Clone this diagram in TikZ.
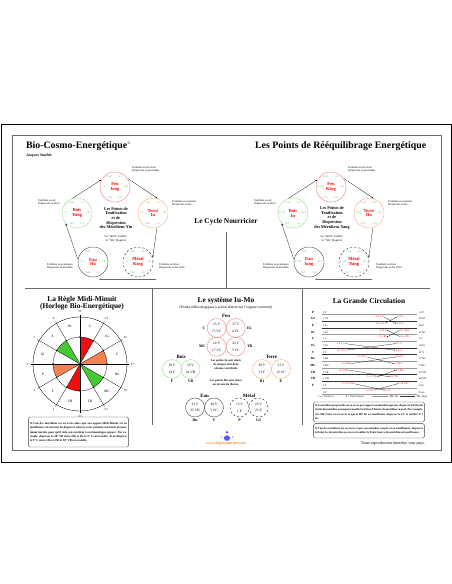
\documentclass[tikz,border=0pt]{standalone}
\usepackage{fontspec}
\setmainfont{Liberation Serif}
\usetikzlibrary{positioning,calc,arrows.meta}

\definecolor{feuline}{RGB}{238,110,110}
\definecolor{boisline}{RGB}{130,220,120}
\definecolor{terreline}{RGB}{246,160,120}
\definecolor{ptgreen}{RGB}{70,200,70}
\definecolor{wedgered}{RGB}{240,15,15}
\definecolor{wedgegreen}{RGB}{70,200,50}
\definecolor{wedgeorange}{RGB}{246,130,80}
\definecolor{framegray}{RGB}{105,105,105}
\definecolor{urlorange}{RGB}{245,140,40}

\tikzset{
  bigtitle/.style={font=\fontsize{14}{16}\selectfont\bfseries, anchor=west, inner sep=0pt},
  paneltitle/.style={font=\fontsize{10.5}{10}\selectfont\bfseries, align=center, inner sep=0pt},
  sepline/.style={framegray, line width=1.3pt},
  elem/.style={circle, minimum size=1.5cm, inner sep=0pt, line width=0.5pt,
    font=\fontsize{6.5}{7}\selectfont\bfseries, text=red, align=center},
  ptl/.style={font=\fontsize{3.5}{3.5}\selectfont, text=ptgreen, inner sep=0pt},
  season/.style={font=\fontsize{4}{4}\selectfont, align=left, inner sep=0pt},
  cycarr/.style={-{Latex[length=2.6pt,width=2pt]}, line width=0.35pt, shorten >=1pt, shorten <=1pt},
  centertext/.style={font=\fontsize{6}{6.7}\selectfont\bfseries, align=center, inner sep=0pt},
  smalltext/.style={font=\fontsize{4.4}{5.7}\selectfont, align=center, inner sep=0pt},
  hour/.style={font=\fontsize{4.5}{4.5}\selectfont, inner sep=0pt},
  sector/.style={font=\fontsize{5}{5}\selectfont, inner sep=0pt},
  notebox/.style={draw=black!75, rounded corners=2pt, line width=0.5pt, inner sep=2pt,
    font=\fontsize{4.2}{5.8}\selectfont\bfseries, align=justify},
  iumo/.style={circle, minimum size=0.95cm, inner sep=0pt, line width=0.5pt,
    font=\fontsize{5}{9.5}\selectfont, align=center},
  elemlab/.style={font=\fontsize{7}{7}\selectfont\bfseries, inner sep=0pt},
  merlab/.style={font=\fontsize{5.5}{5.5}\selectfont\bfseries, inner sep=0pt},
  rowlab/.style={font=\fontsize{4.5}{4.5}\selectfont\bfseries, inner sep=0pt},
  rowpt/.style={font=\fontsize{3.8}{3.8}\selectfont, inner sep=0pt},
  lolab/.style={font=\fontsize{3.8}{3.8}\selectfont, text=red, inner sep=0.3pt},
  mfyin/.style={black!40, line width=0.4pt},
  mfyang/.style={black!80, line width=0.9pt},
  loline/.style={line width=0.3pt, -{Latex[length=1.6pt,width=1.3pt]}},
}

% six green point labels round an element circle
\newcommand{\circlepts}[7]{%
  \node[ptl] at ($(#1)+(-5.5,-10.5)$) {#2};
  \node[ptl] at ($(#1)+(5.5,-10.5)$) {#3};
  \node[ptl] at ($(#1)+(-11,0)$) {#4};
  \node[ptl] at ($(#1)+(11,0)$) {#5};
  \node[ptl] at ($(#1)+(-5.5,10.5)$) {#6};
  \node[ptl] at ($(#1)+(5.5,10.5)$) {#7};}

\begin{document}
\begin{tikzpicture}[x=0.05cm,y=-0.05cm]
\useasboundingbox (0,0) rectangle (452,584);

% frames
\draw[line width=0.8pt] (1,124) rectangle (451,462);
\draw[framegray, line width=1.4pt] (12,135) rectangle (441,450);
\draw[sepline] (25,288) -- (430,288);
\draw[sepline] (226,232) -- (226,288);
\draw[sepline] (152,288) -- (152,425);
\draw[sepline] (302,288) -- (302,425);

% titles
\node[bigtitle] (titleL) at (26,146) {Bio-Cosmo-Energétique\textsuperscript{\fontsize{6}{6}\selectfont\mdseries\textcopyright}};
\node[font=\fontsize{5.5}{5.5}\selectfont\bfseries\itshape, anchor=west, inner sep=0pt] (author) at (26,156) {Jacques Staehle};
\node[bigtitle] (titleR) at (255,146) {Les Points de Rééquilibrage Energétique};
\node[paneltitle] (cycle) at (226,222) {Le Cycle Nourricier};

% ---- cycle Yin
\node[elem, draw=feuline] (feuY) at (115,187) {Feu\\Iong};
\node[elem, draw=boisline] (boisY) at (77,213) {Bois\\Tsing};
\node[elem, draw=terreline] (terreY) at (153,213) {Terre\\Iu};
\node[elem, draw=black!80] (eauY) at (93,262) {Eau\\Ho};
\node[elem, draw=black, dashed] (metalY) at (138,262) {Métal\\King};
\circlepts{feuY}{8 MC}{8 C}{2 F}{2 Rt}{2 Rn}{10 P}
\circlepts{boisY}{9 MC}{9 C}{1 F}{1 Rt}{1 Rn}{11 P}
\circlepts{terreY}{7 MC}{7 C}{3 F}{3 Rt}{3 Rn}{9 P}
\circlepts{eauY}{3 MC}{3 C}{8 F}{9 Rt}{10 Rn}{5 P}
\circlepts{metalY}{5 MC}{4 C}{4 F}{5 Rt}{7 Rn}{8 P}
\draw[cycarr] (boisY.110) -- (feuY.150);
\draw[cycarr] (feuY.35) -- (terreY.70);
\draw[cycarr] (terreY.-75) -- (metalY.15);
\draw[cycarr, framegray, line width=1pt] ($(metalY.south)+(19,2)$) -- ($(eauY.south)+(5,2)$);
\draw[cycarr] (eauY.172) -- (boisY.-140);
\node[season, anchor=west] at (132,169) {Tonifiant en fin d'été\\Dispersant au printemps};
\node[season, anchor=east] at (60,202) {Tonifiant en été\\Dispersant en hiver};
\node[season, anchor=west] at (172,203) {Tonifiant en automne\\Dispersant en été};
\node[season, anchor=east] at (73,266) {Tonifiant au printemps\\Dispersant en automne};
\node[season, anchor=west] at (159,266) {Tonifiant en hiver\\Dispersant en fin d'été};
\node[centertext] (yinText) at (116,218) {Les Points de\\Tonification\\et de\\Dispersion\\des Méridiens Yin};
\node[smalltext] (yinRule) at (116,239) {La "mère" tonifie,\\le "fils" disperse};

% ---- cycle Yang
\node[elem, draw=feuline] (feuG) at (331,187) {Feu\\King};
\node[elem, draw=boisline] (boisG) at (293,213) {Bois\\Iu};
\node[elem, draw=terreline] (terreG) at (369,213) {Terre\\Ho};
\node[elem, draw=black!80] (eauG) at (309,262) {Eau\\Iong};
\node[elem, draw=black, dashed] (metalG) at (354,262) {Métal\\Tsing};
\circlepts{feuG}{6 TR}{5 IG}{38 VB}{41 E}{60 V}{5 GI}
\circlepts{boisG}{3 TR}{3 IG}{41 VB}{43 E}{65 V}{3 GI}
\circlepts{terreG}{10 TR}{8 IG}{34 VB}{36 E}{40 V}{11 GI}
\circlepts{eauG}{2 TR}{2 IG}{43 VB}{44 E}{66 V}{2 GI}
\circlepts{metalG}{1 TR}{1 IG}{44 VB}{45 E}{67 V}{1 GI}
\draw[cycarr] (boisG.110) -- (feuG.150);
\draw[cycarr] (feuG.35) -- (terreG.70);
\draw[cycarr] (terreG.-75) -- (metalG.15);
\draw[cycarr, framegray, line width=1pt] ($(metalG.south)+(19,2)$) -- ($(eauG.south)+(5,2)$);
\draw[cycarr] (eauG.172) -- (boisG.-140);
\node[season, anchor=west] at (348,169) {Tonifiant en fin d'été\\Dispersant au printemps};
\node[season, anchor=east] at (276,202) {Tonifiant en été\\Dispersant en hiver};
\node[season, anchor=west] at (388,203) {Tonifiant en automne\\Dispersant en été};
\node[season, anchor=east] at (289,266) {Tonifiant au printemps\\Dispersant en automne};
\node[season, anchor=west] at (376,266) {Tonifiant en hiver\\Dispersant en fin d'été};
\node[centertext] (yangText) at (332,218) {Les Points de\\Tonification\\et de\\Dispersion\\des Méridiens Yang};
\node[smalltext] (yangRule) at (332,239) {La "mère" tonifie,\\le "fils" disperse};

% ---- Midi-Minuit
\node[paneltitle] (clockTitle) at (82,303.5) {La Règle Midi-Minuit\\(Horloge Bio-Energétique)};
\begin{scope}[shift={(80,364)}, y=0.05cm]
  \fill[wedgeorange] (0,0) -- (0:27) arc[start angle=0, end angle=30, radius=27] -- cycle;
  \fill[wedgered] (0,0) -- (60:27) arc[start angle=60, end angle=90, radius=27] -- cycle;
  \fill[wedgegreen] (0,0) -- (120:27) arc[start angle=120, end angle=150, radius=27] -- cycle;
  \fill[wedgeorange] (0,0) -- (180:27) arc[start angle=180, end angle=210, radius=27] -- cycle;
  \fill[wedgered] (0,0) -- (240:27) arc[start angle=240, end angle=270, radius=27] -- cycle;
  \fill[wedgegreen] (0,0) -- (300:27) arc[start angle=300, end angle=330, radius=27] -- cycle;
  \draw[line width=0.4pt] (0,0) circle[radius=27];
  \draw[line width=0.5pt] (0,0) circle[radius=47];
  \foreach \h [count=\i from 0] in {17,15,13,11,9,7,5,3,1,23,21,19}{
    \draw[line width=0.4pt] (0,0) -- (\i*30:49);
    \fill (\i*30:27) circle[radius=0.8];
    \node[hour] at (\i*30:52.5) {\h};
  }
  \foreach \m [count=\i from 0] in {V,IG,C,Rt,E,GI,P,F,VB,TR,MC,Rn}
    \node[sector] at (15+\i*30:38.5) {\m};
\end{scope}
\node[notebox, text width=4.85cm, minimum height=1.5cm] (clockNote) at (78.5,432) {Si l'un des méridiens est en excès alors que son opposé Midi-Minuit est en insuffisance, il convient de disperser celui en excès pendant son heure de maximum horaire pour qu'il cède son excédent à son homologue opposé. Par exemple, disperser le 38° VB entre 23h et 1h, le 9° C sera tonifié. Si on disperse le 9° C entre 11h et 13h le 38° VB sera tonifié.};

% ---- Iu-Mo
\node[paneltitle] (iumoTitle) at (226,301) {Le système Iu-Mo};
\node[font=\fontsize{5.3}{5.3}\selectfont, inner sep=0pt] (iumoSub) at (226,307.5) {(Points réflexologiques à action directe sur l'organe concerné)};
\node[elemlab] (feuLab) at (226.2,315.5) {Feu};
\node[iumo, draw=feuline] (iuC) at (216.7,328) {15 V\\15 VC};
\node[iumo, draw=feuline] (iuIG) at (235.8,328) {27 V\\4 VC};
\node[iumo, draw=feuline] (iuMC) at (216.7,346.7) {14 V\\17 VC};
\node[iumo, draw=feuline] (iuTR) at (235.8,346.7) {22 V\\5 VC};
\node[merlab, left=0.7mm of iuC] {C};
\node[merlab, right=0.7mm of iuIG] {IG};
\node[merlab, left=0.7mm of iuMC] {MC};
\node[merlab, right=0.7mm of iuTR] {TR};

\node[elemlab] (boisLab) at (181.2,356.5) {Bois};
\node[iumo, draw=boisline] (iuF) at (172,369) {18 V\\14 F};
\node[iumo, draw=boisline] (iuVB) at (190.5,369) {19 V\\24 VB};
\node[merlab, below=0.8mm of iuF] {F};
\node[merlab, below=0.8mm of iuVB] {VB};

\node[elemlab] (terreLab) at (271.5,356.5) {Terre};
\node[iumo, draw=terreline] (iuRt) at (262,369) {20 V\\13 F};
\node[iumo, draw=terreline] (iuE) at (281,369) {21 V\\12 VC};
\node[merlab, below=0.8mm of iuRt] {Rt};
\node[merlab, below=0.8mm of iuE] {E};

\node[font=\fontsize{4.2}{5.7}\selectfont\bfseries, align=center, inner sep=0pt] (iuNote) at (226,364) {Les points Iu sont situés\\de chaque côté de la\\colonne vertébrale.};
\node[font=\fontsize{4.2}{5.7}\selectfont\bfseries, align=center, inner sep=0pt] (moNote) at (226,382) {Les points Mo sont situés\\au niveau du thorax.};

\node[elemlab] (eauLab) at (204.5,395.5) {Eau};
\node[iumo, draw=black!80] (iuRn) at (195,407.5) {23 V\\25 VB};
\node[iumo, draw=black!80] (iuV) at (214,407.5) {28 V\\3 VC};
\node[merlab, below=0.8mm of iuRn] {Rn};
\node[merlab, below=0.8mm of iuV] {V};

\node[elemlab] (metalLab) at (249,395.5) {Métal};
\node[iumo, draw=black, dashed] (iuP) at (239.5,407.5) {13 V\\1 P};
\node[iumo, draw=black, dashed] (iuGI) at (258.5,407.5) {25 V\\25 E};
\node[merlab, below=0.8mm of iuP] {P};
\node[merlab, below=0.8mm of iuGI] {GI};

% logo and site
\fill[blue!65] (227,432.3) circle[radius=1.4];
\fill[blue!65] (223.5,438) .. controls (225,434.5) and (229,434.5) .. (230.5,438) -- (228.5,440.5) -- (225.5,440.5) -- cycle;
\fill[blue!40] (221.5,437) circle[radius=0.9];
\fill[blue!40] (232.5,437) circle[radius=0.9];
\node[font=\fontsize{5.5}{5.5}\selectfont\bfseries, text=urlorange, inner sep=0pt] (site) at (226,444) {www.digitopuncture.net};

% ---- Grande Circulation
\node[paneltitle] (circTitle) at (369,301) {La Grande Circulation};
\foreach \lab/\rlab/\st [count=\i from 0] in {P/11 P/mfyin, GI/20 GI/mfyang, E/45 E/mfyang, Rt/21 Rt/mfyin, C/9 C/mfyin, IG/19 IG/mfyang, V/67 V/mfyang, Rn/27 Rn/mfyin, MC/9 MC/mfyin, TR/23 TR/mfyang, VB/44 VB/mfyang, F/14 F/mfyin}{
  \pgfmathsetmacro{\ry}{312.3+6.65*\i}
  \node[rowlab] (row\i) at (313,\ry) {\lab};
  \draw[\st] (322,\ry+2.3) -- (417,\ry+2.3);
  \node[rowpt, anchor=west] at (323,\ry) {1 \lab};
  \node[rowpt, anchor=west] at (419,\ry) {\rlab};
}
\draw[mfyin] (322,394.6) -- (417,394.6);
\node[rowpt, anchor=west] at (323,392.3) {1 P};
\node[rowpt, anchor=west] at (419,392.3) {P etc...};

\node[lolab] (loP) at (380,316.9) {Lo 7 P};
\node[lolab] (sP) at (400,316.9) {S 9 P};
\node[lolab] (loGI) at (380,323.6) {Lo 6 GI};
\node[lolab] (sGI) at (400,323.6) {S 4 GI};
\draw[loline] (loP.east) -- (sGI.west);
\draw[loline] (loGI.east) -- (sP.west);

\node[lolab] (sE) at (383,330.2) {S 42 E};
\node[lolab] (loE) at (405,330.2) {Lo 40 E};
\node[lolab] (sRt) at (383,336.9) {S 3 Rt};
\node[lolab] (loRt) at (405,336.9) {Lo 4 Rt};
\draw[loline] (loE.west) -- (sRt.east);
\draw[loline] (loRt.west) -- (sE.east);

\node[lolab] (loC) at (341,343.6) {Lo 5 C};
\node[lolab] (sC) at (399,343.6) {S 7 C};
\node[lolab] (loIG) at (341,350.2) {Lo 7 IG};
\node[lolab] (sIG) at (399,350.2) {S 4 IG};
\draw[loline] (loC.east) -- (sIG.west);
\draw[loline] (loIG.east) -- (sC.west);

\node[lolab] (loV) at (362,356.9) {Lo 58 V};
\node[lolab] (sV) at (400,356.9) {S 64 V};
\node[lolab] (loRn) at (346,363.6) {Lo 4 Rn};
\node[lolab] (sRn) at (398,363.6) {S 3 Rn};
\draw[loline] (loV.east) -- (sRn.west);
\draw[loline] (loRn.east) -- (sV.west);

\node[lolab] (loMC) at (344,370.2) {Lo 6 MC};
\node[lolab] (sMC) at (400,370.2) {S 7 MC};
\node[lolab] (loTR) at (372,376.9) {Lo 5 TR};
\node[lolab] (sTR) at (394,376.9) {S 4 TR};
\draw[loline] (loMC.east) -- (sTR.west);
\draw[loline] (loTR.east) -- (sMC.west);

\node[lolab] (loVB) at (348,383.6) {Lo 37 VB};
\node[lolab] (sVB) at (403,383.6) {S 40 VB};
\node[lolab] (loF) at (370,390.2) {Lo 5 F};
\node[lolab] (sF) at (388,390.2) {S 3 F};
\draw[loline] (loVB.east) -- (sF.west);
\draw[loline] (loF.east) -- (sVB.west);

% legend
\node[rowpt] (legLo) at (326,396.5) {Lo = Point Lo};
\node[rowpt] (legS) at (355,396.5) {S = Point Source};
\draw[mfyin] (372,396.5) -- (388,396.5);
\node[rowpt] (legYin) at (394,396.5) {MF Yin};
\draw[mfyang] (400,396.5) -- (415,396.5);
\node[rowpt] (legYang) at (422,396.5) {MF Yang};

\node[notebox, text width=5.4cm, font=\fontsize{4}{5.8}\selectfont\bfseries, minimum height=1cm] (circNote1) at (369,412) {Si le méridien qui précède est en excès par rapport au méridien qui suit, disperser le Point de Sortie du méridien en amont et tonifier le Point d'Entrée du méridien en aval. Par exemple, si le MF Cœur est en excès et que le MF IG est insuffisant, disperser le 9 C et tonifier le 1 IG.};
\node[notebox, text width=5.4cm, font=\fontsize{4}{5.8}\selectfont\bfseries, minimum height=0.72cm] (circNote2) at (369,430.8) {Si l'un des méridiens est en excès et que son méridien couplé est en insuffisance, disperser le Point Lo du méridien en excès et tonifier le Point Source du méridien en insuffisance.};
\node[font=\fontsize{5.8}{5.8}\selectfont, inner sep=0pt] (copyright) at (393,443.5) {Toute reproduction interdite, tous pays.};

\end{tikzpicture}
\end{document}
